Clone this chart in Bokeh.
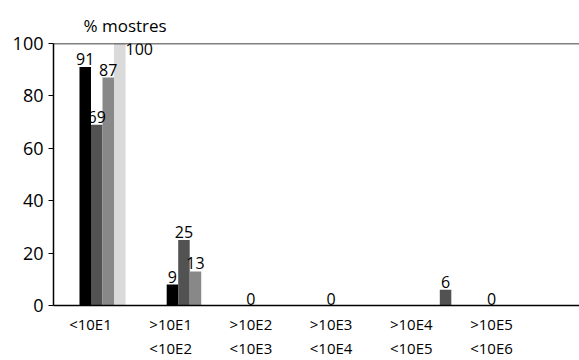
from bokeh.plotting import figure
from bokeh.models import Range1d, FixedTicker, Span, ColumnDataSource
from bokeh.transform import dodge
from bokeh.embed import file_html
from bokeh.resources import INLINE
from bokeh.core.properties import value

# ---- data ----
categories = ["<10E1", ">10E1\n<10E2", ">10E2\n<10E3", ">10E3\n<10E4", ">10E4\n<10E5", ">10E5\n<10E6"]
serie1 = [91, 8, 0, 0, 0, 0]
serie2 = [69, 25, 0, 0, 6, 0]
serie3 = [87, 13, 0, 0, 0, 0]
serie4 = [100, 0, 0, 0, 0, 0]
etiq1 = ["91", "9", "", "", "", ""]
etiq2 = ["69", "25", "", "", "6", ""]
etiq3 = ["87", "13", "", "", "", ""]
etiq4 = ["100", "", "", "", "", ""]
etiq_zero = ["", "", "0", "0", "", "0"]
y_ticks = [0, 20, 40, 60, 80, 100]
y_title = "% mostres"

colors = ["#000000", "#525252", "#888888", "#dadada"]
FONT = "Open Sans"

idx = list(range(len(categories)))
src = ColumnDataSource(dict(x=idx, s1=serie1, s2=serie2, s3=serie3, s4=serie4,
                            l1=etiq1, l2=etiq2, l3=etiq3, l4=etiq4, lz=etiq_zero,
                            zero=[0] * len(idx)))

p = figure(width=579, height=360, output_backend="svg", toolbar_location=None,
           x_range=Range1d(-0.461, 6.097), y_range=Range1d(0, 100),
           min_border_left=53, min_border_right=0, min_border_top=43, min_border_bottom=55)
p.extra_x_ranges = {"bars": Range1d(-0.562, 5.470)}
p.outline_line_color = None
p.grid.visible = False

p.title.text = y_title
p.title.text_font = FONT
p.title.text_font_size = "17px"
p.title.text_font_style = "normal"
p.title.text_color = "black"
p.title.align = "left"
p.title.offset = 30
p.title.standoff = 13

w = 0.132
series = ["s1", "s2", "s3", "s4"]
labels = ["l1", "l2", "l3", "l4"]
for k, (s, c) in enumerate(zip(series, colors)):
    off = (k - 1.5) * w
    p.vbar(x=dodge("x", off), top=s, width=w, source=src, color=c,
           line_color=None, x_range_name="bars")

for k in range(3):
    off = (k - 1.5) * w
    p.text(x=dodge("x", off), y=series[k], text=labels[k], source=src,
           x_range_name="bars", text_align="center", text_baseline="bottom",
           y_offset=-2, text_font=value(FONT), text_font_size="16px", text_color="black")

# label of the full bar, drawn beside it
p.text(x=dodge("x", 2 * w), y=series[3], text="l4", source=src, x_range_name="bars",
       text_align="left", text_baseline="top", x_offset=0, y_offset=-1,
       text_font=value(FONT), text_font_size="16px", text_color="black")

# zero labels
p.text(x="x", y="zero", text="lz", source=src, text_align="center",
       text_baseline="bottom", y_offset=-1,
       text_font=value(FONT), text_font_size="16px", text_color="black")

p.add_layout(Span(location=100, dimension="width", line_color="black", line_width=1.5))

yax = p.yaxis[0]
yax.ticker = FixedTicker(ticks=y_ticks)
yax.minor_tick_line_color = None
yax.major_tick_out = 5
yax.major_tick_in = 0
yax.major_label_standoff = 5
yax.major_label_text_font = FONT
yax.major_label_text_font_size = "18px"
yax.major_label_text_color = "black"
yax.axis_line_color = "black"
yax.axis_line_width = 1.5
yax.major_tick_line_width = 1

xax = p.xaxis[0]
xax.ticker = FixedTicker(ticks=idx)
xax.major_label_overrides = {i: categories[i] for i in idx}
xax.major_tick_line_color = None
xax.minor_tick_line_color = None
xax.major_label_standoff = 2
xax.major_label_text_font = FONT
xax.major_label_text_font_size = "15px"
xax.major_label_text_color = "black"
xax.axis_line_color = "black"
xax.axis_line_width = 1.5

open("out.html", "w").write(file_html(p, INLINE))
